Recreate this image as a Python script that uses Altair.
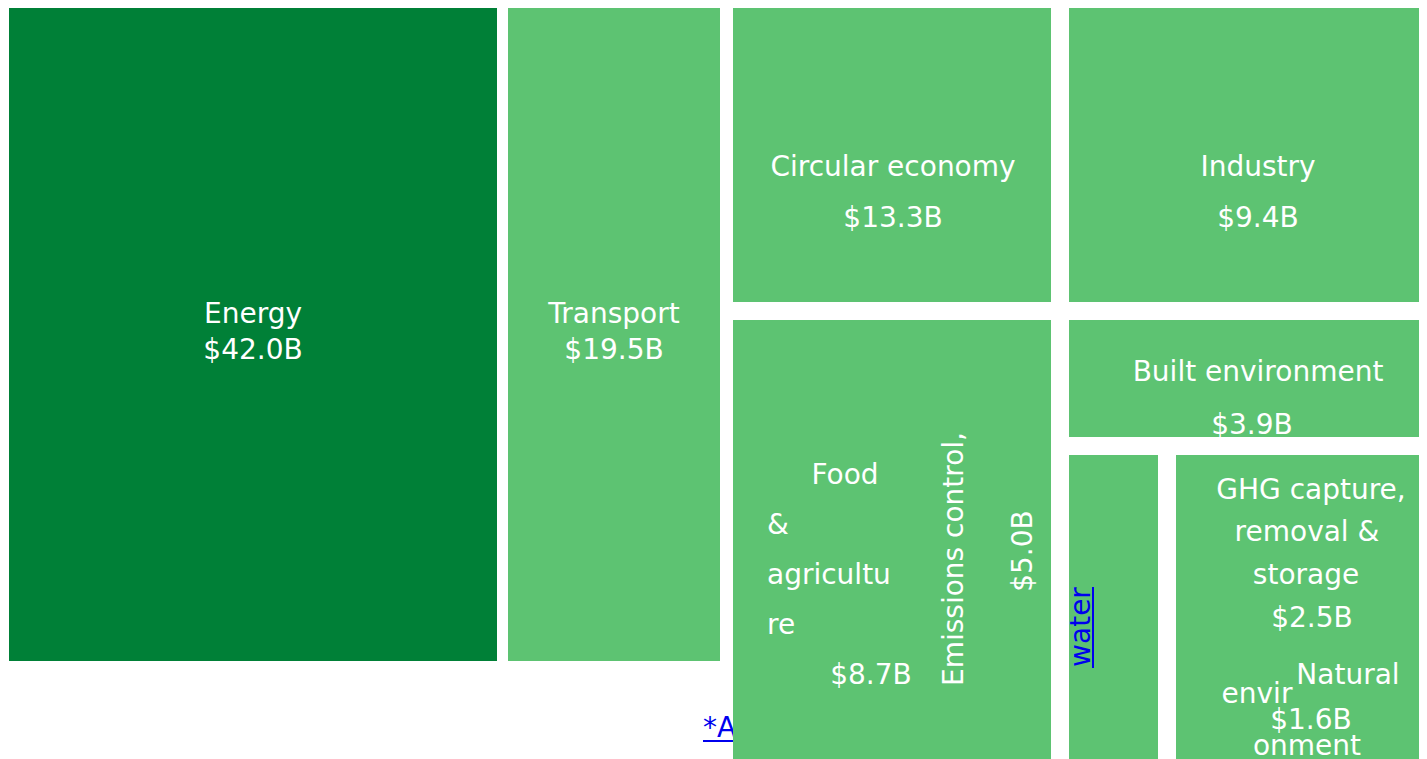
import altair as alt
import pandas as pd

# ---------------- data ----------------
sectors = ["Energy", "Transport", "Circular economy", "Industry", "Food & agriculture",
           "Emissions control", "Built environment", "Water",
           "GHG capture, removal & storage", "Natural environment"]
values_b = [42.0, 19.5, 13.3, 9.4, 8.7, 5.0, 3.9, None, 2.5, 1.6]
dark_sectors = ["Energy"]
footnote_text = "*A"
water_link_text = "water"

# ---------------- layout (chart pixels) ----------------
W, H = 1411, 751
FS = 28
DARK = "#008037"
LIGHT = "#5DC372"
LINK = "#0000EE"

boxes = {
    "Energy": (1, 489, 0, 653),
    "Transport": (500, 712, 0, 653),
    "Circular economy": (725, 1043, 0, 294),
    "Industry": (1061, 1411, 0, 294),
    "Food & agriculture": (725, 940, 312, 751),
    "Emissions control": (930, 1043, 312, 751),
    "Built environment": (1061, 1411, 312, 429),
    "Water": (1061, 1150, 447, 751),
    "GHG capture, removal & storage": (1168, 1411, 447, 645),
    "Natural environment": (1168, 1411, 635, 751),
}

def money(v):
    return f"${v:.1f}B"

val = dict(zip(sectors, values_b))

# label lines: (text, x, y, align, angle)
label_lines = [
    ("Energy", 245, 315, "center", 0),
    (money(val["Energy"]), 245, 351, "center", 0),
    ("Transport", 606, 315, "center", 0),
    (money(val["Transport"]), 606, 351, "center", 0),
    ("Circular economy", 885, 168, "center", 0),
    (money(val["Circular economy"]), 885, 219, "center", 0),
    ("Industry", 1250, 168, "center", 0),
    (money(val["Industry"]), 1250, 219, "center", 0),
    ("Built environment", 1250, 373, "center", 0),
    (money(val["Built environment"]), 1244, 426, "center", 0),
    ("Food", 837, 476, "center", 0),
    ("&", 759, 526, "left", 0),
    ("agricultu", 759, 576, "left", 0),
    ("re", 759, 626, "left", 0),
    (money(val["Food & agriculture"]), 863, 676, "center", 0),
    ("Emissions control,", 955, 551, "center", -90),
    (money(val["Emissions control"]), 1024, 543, "center", -90),
    ("GHG capture,", 1303, 491, "center", 0),
    ("removal &", 1299, 533, "center", 0),
    ("storage", 1298, 576, "center", 0),
    (money(val["GHG capture, removal & storage"]), 1304, 619, "center", 0),
    ("Natural", 1340, 676, "center", 0),
    ("envir", 1249, 695, "center", 0),
    (money(val["Natural environment"]), 1303, 721, "center", 0),
    ("onment", 1299, 747, "center", 0),
]

rect_df = pd.DataFrame([
    {"sector": s, "x": b[0], "x2": b[1], "y": b[2], "y2": b[3],
     "color": DARK if s in dark_sectors else LIGHT}
    for s, b in boxes.items()
])
lab_df = pd.DataFrame(label_lines, columns=["text", "x", "y", "align", "angle"])

xs = alt.Scale(domain=[0, W], nice=False, zero=False)
ys = alt.Scale(domain=[0, H], nice=False, zero=False, reverse=True)

# footnote link (partly hidden behind the cells)
foot_df = pd.DataFrame([{"text": footnote_text, "x": 695, "y": 729, "x2": 725, "uy": 733}])
foot_text = alt.Chart(foot_df).mark_text(
    align="left", baseline="alphabetic", font="DejaVu Sans", fontSize=FS, color=LINK
).encode(x=alt.X("x:Q", scale=xs, axis=None), y=alt.Y("y:Q", scale=ys, axis=None), text="text:N")
foot_line = alt.Chart(foot_df).mark_rule(color=LINK, strokeWidth=2).encode(
    x=alt.X("x:Q", scale=xs, axis=None), x2="x2:Q", y=alt.Y("uy:Q", scale=ys, axis=None))

rects = alt.Chart(rect_df).mark_rect().encode(
    x=alt.X("x:Q", scale=xs, axis=None), x2="x2:Q",
    y=alt.Y("y:Q", scale=ys, axis=None), y2="y2:Q",
    color=alt.Color("color:N", scale=None, legend=None),
)

def text_layer(df, align):
    return alt.Chart(df).mark_text(
        align=align, baseline="alphabetic", font="DejaVu Sans", fontSize=FS, color="white"
    ).encode(
        x=alt.X("x:Q", scale=xs, axis=None), y=alt.Y("y:Q", scale=ys, axis=None),
        text="text:N", angle=alt.Angle("angle:Q", scale=None),
    )

center_txt = text_layer(lab_df[lab_df["align"] == "center"], "center")
left_txt = text_layer(lab_df[lab_df["align"] == "left"], "left")

water_df = pd.DataFrame([{"text": water_link_text, "x": 1082, "y": 619,
                          "ux": 1085, "uy": 579, "uy2": 660, "angle": 270}])
water_text = alt.Chart(water_df).mark_text(
    align="center", baseline="alphabetic", font="DejaVu Sans", fontSize=FS, color=LINK
).encode(x=alt.X("x:Q", scale=xs, axis=None), y=alt.Y("y:Q", scale=ys, axis=None),
         text="text:N", angle=alt.Angle("angle:Q", scale=None))
water_line = alt.Chart(water_df).mark_rule(color=LINK, strokeWidth=2).encode(
    x=alt.X("ux:Q", scale=xs, axis=None), y=alt.Y("uy:Q", scale=ys, axis=None), y2="uy2:Q")

chart = alt.layer(
    foot_text, foot_line, rects, center_txt, left_txt, water_text, water_line
).properties(
    width=W, height=H, padding=0, autosize="none", background="white"
).configure_view(strokeWidth=0)

chart.save("out.html", embed_options={"renderer": "svg", "actions": False})
